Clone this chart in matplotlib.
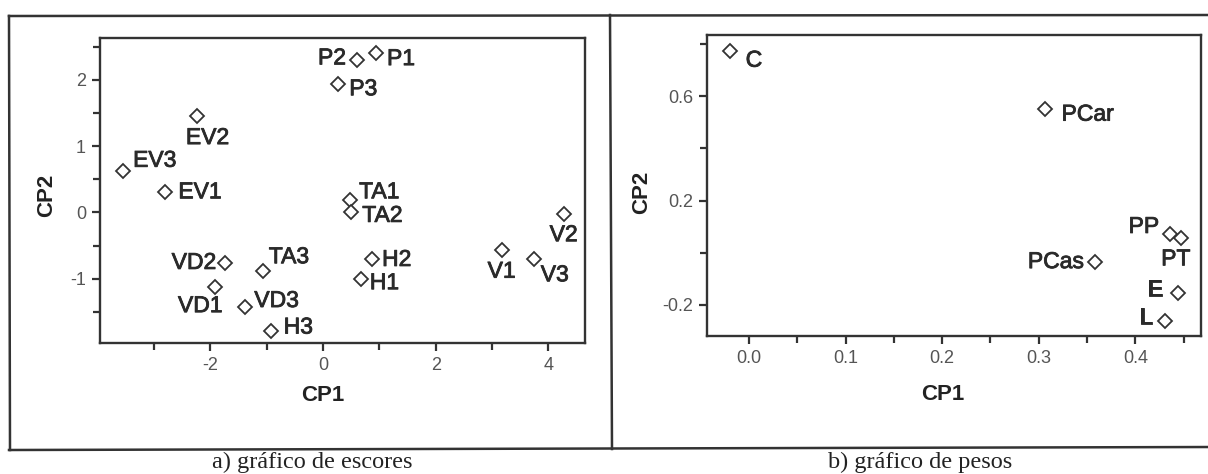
import matplotlib
matplotlib.use("Agg")
import matplotlib.pyplot as plt
from matplotlib.lines import Line2D
from matplotlib.ticker import FixedLocator
import matplotlib.patheffects as pe

# ---------------- data ----------------
score_labels = ["P1", "P2", "P3", "EV1", "EV2", "EV3", "TA1", "TA2", "TA3",
                "H1", "H2", "H3", "VD1", "VD2", "VD3", "V1", "V2", "V3"]
score_cp1 = [0.94, 0.60, 0.27, -2.80, -2.23, -3.55, 0.48, 0.50, -1.07,
             0.67, 0.87, -0.93, -1.91, -1.74, -1.38, 3.17, 4.27, 3.74]
score_cp2 = [2.41, 2.30, 1.94, 0.31, 1.46, 0.62, 0.19, 0.00, -0.88,
             -1.00, -0.71, -1.79, -1.12, -0.77, -1.42, -0.57, -0.02, -0.70]

load_labels = ["C", "PCar", "PCas", "PP", "PT", "E", "L"]
load_cp1 = [-0.020, 0.306, 0.358, 0.436, 0.447, 0.444, 0.431]
load_cp2 = [0.772, 0.550, -0.034, 0.070, 0.057, -0.156, -0.260]

xlabel = "CP1"
ylabel = "CP2"
caption_a = "a) gráfico de escores"
caption_b = "b) gráfico de pesos"

# ---------------- label placement (style) ----------------
score_off = {
    "P1": (11, -6, "left"), "P2": (-11, 2, "right"), "P3": (11, -5, "left"),
    "EV1": (13, 0, "left"), "EV2": (10, -22, "center"), "EV3": (10, 11, "left"),
    "TA1": (9, 8, "left"), "TA2": (11, -3, "left"), "TA3": (6, 14, "left"),
    "H1": (9, -4, "left"), "H2": (10, 0, "left"), "H3": (13, 4, "left"),
    "VD1": (7, -19, "right"), "VD2": (-9, 1, "right"), "VD3": (9, 6, "left"),
    "V1": (0, -21, "center"), "V2": (0, -21, "center"), "V3": (7, -16, "left"),
}
load_off = {
    "C": (16, -9, "left"), "PCar": (17, -5, "left"), "PCas": (-11, 0, "right"),
    "PP": (-11, 8, "right"), "PT": (-5, -21, "center"), "E": (-15, 4, "right"),
    "L": (-13, 3, "right"),
}

W, H, DPI = 1208, 474, 100
plt.rcParams['font.family'] = ['Liberation Sans', 'DejaVu Sans']
fig = plt.figure(figsize=(W / DPI, H / DPI), dpi=DPI)
fig.patch.set_facecolor("white")

frame_col = "#333333"
tick_col = "#555555"
txt_col = "#2a2a2a"
thick = [pe.withStroke(linewidth=0.6, foreground=txt_col)]


def fx(px):
    return px / W


def fy(py):
    return 1 - py / H


def style_axes(ax, xl_pos, yl_pos):
    for s in ax.spines.values():
        s.set_color(frame_col)
        s.set_linewidth(1.7)
    ax.tick_params(which="major", direction="out", length=6, width=1.6,
                   color=frame_col, labelsize=13, labelcolor=tick_col, pad=4)
    ax.tick_params(which="minor", direction="out", length=5, width=1.6,
                   color=frame_col)
    ax.set_xlabel(xlabel, fontsize=16, fontweight="bold", color="#222222")
    ax.set_ylabel(ylabel, fontsize=16, fontweight="bold", color="#222222")
    ax.xaxis.set_label_coords(*xl_pos)
    ax.yaxis.set_label_coords(*yl_pos)


def scatter_labels(ax, xs, ys, labels, offs):
    ax.plot(xs, ys, linestyle="none", marker="D", markersize=7.5,
            markerfacecolor="white", markeredgecolor="#333333", markeredgewidth=1.3)
    for x, y, lab in zip(xs, ys, labels):
        dx, dy, ha = offs[lab]
        ax.annotate(lab, (x, y), xytext=(dx, dy), textcoords="offset pixels",
                    ha=ha, va="center", fontsize=16.5, color=txt_col,
                    path_effects=thick)


# ---- left panel: scores ----
ax1 = fig.add_axes([fx(100), fy(343), fx(585 - 100), (343 - 38) / H])
scatter_labels(ax1, score_cp1, score_cp2, score_labels, score_off)
ax1.set_xlim(-3.96, 4.65)
ax1.set_ylim(-1.97, 2.63)
ax1.xaxis.set_major_locator(FixedLocator([-2, 0, 2, 4]))
ax1.xaxis.set_minor_locator(FixedLocator([-3, -1, 1, 3]))
ax1.yaxis.set_major_locator(FixedLocator([-1, 0, 1, 2]))
ax1.yaxis.set_minor_locator(FixedLocator([-1.5, -0.5, 0.5, 1.5, 2.5]))
ax1.set_xticklabels(["-2", "0", "2", "4"])
ax1.set_yticklabels(["-1", "0", "1", "2"])
style_axes(ax1, ((323 - 100) / 485, (343 - 385) / 305),
           ((57 - 100) / 485, (343 - 195) / 305))

# ---- right panel: loadings ----
ax2 = fig.add_axes([fx(707), fy(336), fx(1201 - 707), (336 - 35) / H])
scatter_labels(ax2, load_cp1, load_cp2, load_labels, load_off)
ax2.set_xlim(-0.0435, 0.468)
ax2.set_ylim(-0.319, 0.834)
ax2.xaxis.set_major_locator(FixedLocator([0.0, 0.1, 0.2, 0.3, 0.4]))
ax2.xaxis.set_minor_locator(FixedLocator([0.05, 0.15, 0.25, 0.35, 0.45]))
ax2.yaxis.set_major_locator(FixedLocator([-0.2, 0.2, 0.6]))
ax2.yaxis.set_minor_locator(FixedLocator([0.0, 0.4, 0.8]))
ax2.set_xticklabels(["0.0", "0.1", "0.2", "0.3", "0.4"])
ax2.set_yticklabels(["-0.2", "0.2", "0.6"])
style_axes(ax2, ((943 - 707) / 494, (336 - 384) / 301),
           ((652 - 707) / 494, (336 - 192) / 301))

# ---- outer frame and divider ----
lw = 1.8
fig.add_artist(Line2D([fx(9), fx(1215)], [fy(16), fy(15)], color=frame_col, lw=lw))
fig.add_artist(Line2D([fx(9), fx(1215)], [fy(450), fy(447)], color=frame_col, lw=lw))
fig.add_artist(Line2D([fx(9), fx(10)], [fy(16), fy(450)], color=frame_col, lw=lw))
fig.add_artist(Line2D([fx(610), fx(612)], [fy(15), fy(449)], color=frame_col, lw=lw))

# ---- captions ----
fig.text(fx(312), fy(473), caption_a, ha="center", va="bottom", fontsize=17.5,
         family=["Liberation Serif", "DejaVu Serif"], color="#222222")
fig.text(fx(920), fy(473), caption_b, ha="center", va="bottom", fontsize=17.5,
         family=["Liberation Serif", "DejaVu Serif"], color="#222222")

fig.savefig("out.png", dpi=DPI)
